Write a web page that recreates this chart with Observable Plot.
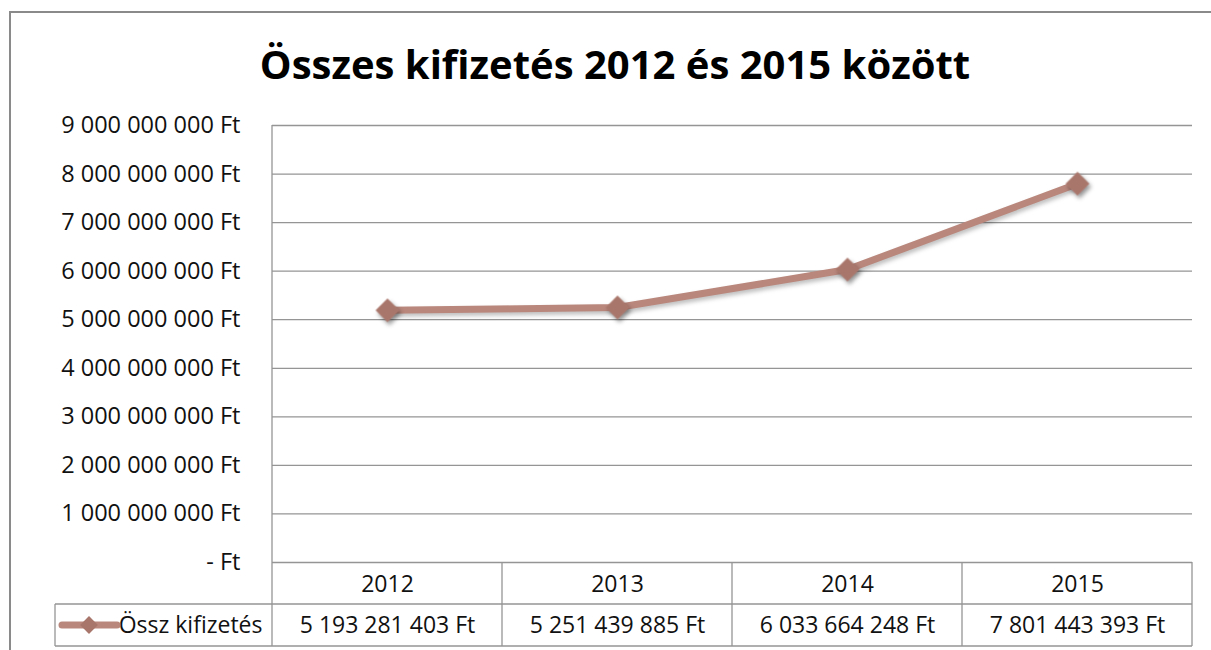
<!DOCTYPE html>
<html>
<head>
<meta charset="utf-8">
<script src="https://cdn.jsdelivr.net/npm/d3@7"></script>
<script src="https://cdn.jsdelivr.net/npm/@observablehq/plot@0.6"></script>
<style>
  html, body { margin: 0; padding: 0; background: #fff; }
  #wrap { position: relative; width: 1211px; height: 650px; overflow: hidden; background: #fff; font-family: "Open Sans", sans-serif; }
  #border { position: absolute; left: 9px; top: 11px; width: 1300px; height: 800px; border-left: 2px solid #8a8a8a; border-top: 2px solid #8a8a8a; }
  #title { position: absolute; left: 10px; width: 1210px; top: 44px; text-align: center; font: bold 40px/1 "Open Sans", sans-serif; color: #000; white-space: nowrap; }
  #chart { position: absolute; left: 0; top: 0; }
  #chart svg g[aria-label="line"] { filter: drop-shadow(1px 3px 2px rgba(0,0,0,0.25)); }
  #chart svg g[aria-label="dot"] { filter: drop-shadow(2px 3px 2px rgba(0,0,0,0.4)); }
</style>
</head>
<body>
<div id="wrap">
  <div id="border"></div>
  <div id="chart"></div>
  <div id="title"></div>
</div>
<script>
const titleText = "Összes kifizetés 2012 és 2015 között";
const seriesName = "Össz kifizetés";
const years = ["2012", "2013", "2014", "2015"];
const payments = [5193281403, 5251439885, 6033664248, 7801443393];
const yTicks = [0, 1e9, 2e9, 3e9, 4e9, 5e9, 6e9, 7e9, 8e9, 9e9];

const data = years.map((year, i) => ({year, value: payments[i]}));
const ft = v => v === 0 ? "- Ft" : d3.format(",")(v).replace(/,/g, " ") + " Ft";

document.getElementById("title").textContent = titleText;

const lineColor = "#b9877c";
const dotColor = "#a9766b";
const gridColor = "#959595";

const chart = Plot.plot({
  width: 1211,
  height: 650,
  marginTop: 125,
  marginBottom: 88,
  marginLeft: 272,
  marginRight: 19,
  style: {fontFamily: "Open Sans", fontSize: "23px", color: "#111", background: "transparent"},
  x: {type: "band", domain: years, padding: 0, label: null},
  y: {domain: [0, 9e9], label: null},
  marks: [
    Plot.gridY(yTicks, {stroke: gridColor, strokeOpacity: 1, strokeWidth: 1.3}),
    Plot.axisY(yTicks, {tickSize: 0, tickPadding: 32, tickFormat: ft, fontSize: 23.5, label: null}),
    Plot.axisX({tickSize: 0, tickPadding: 13, fontSize: 23, label: null}),
    Plot.line(data, {x: "year", y: "value", stroke: lineColor, strokeWidth: 7, strokeLinejoin: "round"}),
    Plot.dot(data, {x: "year", y: "value", symbol: "diamond2", r: 10.5, fill: dotColor, stroke: "#b48176", strokeWidth: 0.5}),
    Plot.text(data, {x: "year", text: d => ft(d.value), frameAnchor: "bottom", lineAnchor: "middle", dy: 63, fontSize: 23}),
    Plot.text([seriesName], {text: d => d, frameAnchor: "bottom-left", lineAnchor: "middle", dx: -10, dy: 63, textAnchor: "end", fontSize: 23})
  ]
});
document.getElementById("chart").appendChild(chart);

// data table grid, positioned from the plot's own scales
const xs = chart.scale("x");
const ys = chart.scale("y");
const bw = xs.bandwidth;
const edges = years.map(y => xs.apply(y));
edges.push(edges[edges.length - 1] + bw);
const y0 = ys.apply(0);
const yTop = ys.apply(9e9);
const rh = 42;
const legendLeft = 55;
const svg = d3.select(chart);
const g = svg.append("g").attr("stroke", gridColor).attr("stroke-width", 1.3).attr("fill", "none");
g.append("line").attr("x1", edges[0]).attr("x2", edges[0]).attr("y1", yTop).attr("y2", y0 + 2 * rh);
edges.slice(1).forEach(x => g.append("line").attr("x1", x).attr("x2", x).attr("y1", y0).attr("y2", y0 + 2 * rh));
g.append("line").attr("x1", legendLeft).attr("x2", edges[edges.length - 1]).attr("y1", y0 + rh).attr("y2", y0 + rh);
g.append("line").attr("x1", legendLeft).attr("x2", edges[edges.length - 1]).attr("y1", y0 + 2 * rh).attr("y2", y0 + 2 * rh);
g.append("line").attr("x1", legendLeft).attr("x2", legendLeft).attr("y1", y0 + rh).attr("y2", y0 + 2 * rh);

// legend swatch
const ly = y0 + 1.5 * rh;
const sw = svg.append("g");
sw.append("line").attr("x1", 62).attr("x2", 117).attr("y1", ly).attr("y2", ly)
  .attr("stroke", lineColor).attr("stroke-width", 7).attr("stroke-linecap", "round");
sw.append("path").attr("d", d3.symbol(d3.symbolDiamond2, Math.PI * 8 * 8)()).attr("transform", `translate(89,${ly})`)
  .attr("fill", dotColor);
</script>
</body>
</html>
